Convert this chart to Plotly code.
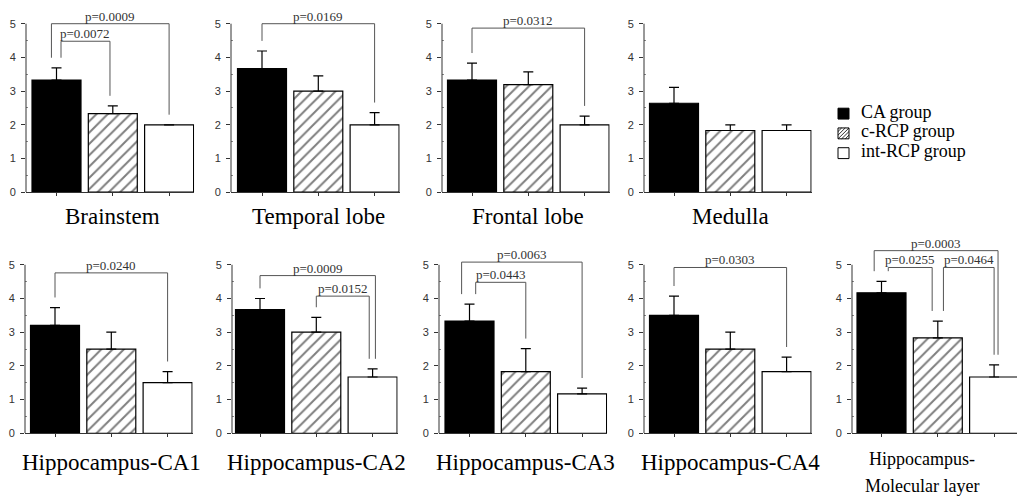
import plotly.graph_objects as go

# ---------------- data ----------------
regions = ["Brainstem", "Temporal lobe", "Frontal lobe", "Medulla",
           "Hippocampus-CA1", "Hippocampus-CA2", "Hippocampus-CA3",
           "Hippocampus-CA4", "Hippocampus-<br>Molecular layer"]
groups = ["CA group", "c-RCP group", "int-RCP group"]

ca_mean = [3.33, 3.67, 3.33, 2.64, 3.20, 3.67, 3.33, 3.50, 4.17]
ca_err = [0.36, 0.52, 0.50, 0.47, 0.53, 0.33, 0.50, 0.57, 0.34]
crcp_mean = [2.33, 3.00, 3.19, 1.83, 2.50, 3.00, 1.83, 2.50, 2.83]
crcp_err = [0.23, 0.45, 0.38, 0.17, 0.50, 0.44, 0.68, 0.50, 0.50]
int_mean = [2.00, 2.00, 2.00, 1.83, 1.50, 1.67, 1.17, 1.83, 1.67]
int_err = [0.00, 0.36, 0.26, 0.17, 0.33, 0.24, 0.17, 0.43, 0.36]

# significance comparisons per panel: (group i, group j, bracket level, label)
comparisons = [
    [(0, 2, 5.00, "p=0.0009"), (0, 1, 4.48, "p=0.0072")],
    [(0, 2, 5.00, "p=0.0169")],
    [(0, 2, 4.87, "p=0.0312")],
    [],
    [(0, 2, 4.76, "p=0.0240")],
    [(0, 2, 4.68, "p=0.0009"), (1, 2, 4.07, "p=0.0152")],
    [(0, 2, 5.08, "p=0.0063"), (0, 1, 4.48, "p=0.0443")],
    [(0, 2, 4.92, "p=0.0303")],
    [(0, 2, 5.42, "p=0.0003"), (0, 1, 4.92, "p=0.0255"), (1, 2, 4.92, "p=0.0464")],
]

# ---------------- layout helpers (pixels of the 1018x502 canvas) ----------------
W, H = 1018, 502
axis_px = [26, 231, 442, 644, 25, 232, 439, 644, 852]
c1_px = [56.5, 262, 472, 674, 55, 260, 469.5, 674, 881.5]
panel_row = [0, 0, 0, 0, 1, 1, 1, 1, 1]
PPU = 56.3          # px per category step
ZERO_PX = [194.5, 438.5]
PPY = 34.1          # px per y unit
YMAX = 5.6
# leg x-offsets for nested brackets (per panel, per comparison: dx_i, dx_j)
leg_dx = [
    [(-0.09, 0.0), (0.08, -0.05)],
    [(0.0, 0.0)],
    [(0.0, 0.0)],
    [],
    [(0.0, 0.0)],
    [(0.0, 0.05), (0.0, -0.06)],
    [(-0.14, 0.0), (0.11, 0.0)],
    [(0.0, 0.0)],
    [(-0.13, 0.07), (0.12, -0.10), (0.10, 0.0)],
]
# category label placement: first-line anchor y (px), line step (px), x offset (category units), font size
label_y_px = [219.5, 219.5, 219.5, 219.5, 468, 468, 468, 468, 465]
label_step = 27
label_dx = [0, 0, 0, 0, 0, 0, 0, 0, -0.28]
label_size = [23, 23, 23, 23, 23, 23, 23, 23, 18]

means = [ca_mean, crcp_mean, int_mean]
errs = [ca_err, crcp_err, int_err]
HATCH = dict(shape="/", fgcolor="black", bgcolor="white", size=8, solidity=0.25)
fills = [
    dict(color="black", pattern=dict(shape="")),
    dict(color="white", pattern=HATCH),
    dict(color="white", pattern=dict(shape="")),
]

SERIF = "Liberation Serif, Times New Roman, serif"
SANS = "Liberation Sans, Arial, sans-serif"

fig = go.Figure()
layout = dict(
    width=W, height=H, margin=dict(l=0, r=0, t=0, b=0),
    paper_bgcolor="white", plot_bgcolor="white",
    barmode="overlay", showlegend=False,
)
shapes = []
annotations = []

for k in range(9):
    ax = "" if k == 0 else str(k + 1)
    xname, yname = "x" + ax, "y" + ax
    row = panel_row[k]
    right_px = min(c1_px[k] + 2 * PPU + 25, W - 1)
    xr = [(axis_px[k] - c1_px[k]) / PPU, (right_px - c1_px[k]) / PPU]
    zero = ZERO_PX[row]
    top = zero - YMAX * PPY

    layout["xaxis" + ax] = dict(
        domain=[axis_px[k] / W, right_px / W], range=xr, anchor=yname,
        showline=True, linecolor="#333", linewidth=1,
        ticks="outside", ticklen=3, tickcolor="#333", tickvals=[0, 1, 2],
        showticklabels=False, showgrid=False, zeroline=False, fixedrange=True,
    )
    layout["yaxis" + ax] = dict(
        domain=[1 - zero / H, 1 - top / H], range=[0, YMAX], anchor=xname,
        showline=False, ticks="outside", ticklen=4, tickcolor="#333", tickwidth=1,
        tickvals=[0, 1, 2, 3, 4, 5], ticktext=["0", "1", "2", "3", "4", "5"],
        tickfont=dict(family=SANS, size=11, color="#333"), ticklabelstandoff=3,
        minor=dict(tickvals=[0.5, 1.5, 2.5, 3.5, 4.5], ticks="inside", ticklen=2,
                   tickcolor="#888", showgrid=False),
        showgrid=False, zeroline=False, fixedrange=True,
    )
    # y axis line only from 0 to 5
    shapes.append(dict(type="line", xref=xname + " domain", x0=0, x1=0,
                       yref=yname, y0=0, y1=5, line=dict(color="#333", width=1)))

    for g in range(3):
        fig.add_trace(go.Bar(
            x=[g], y=[means[g][k]], width=0.87, xaxis=xname, yaxis=yname,
            name=groups[g], showlegend=False,
            marker=dict(color=fills[g]["color"], pattern=fills[g]["pattern"],
                        line=dict(color="black", width=1.2)),
            error_y=dict(type="data", symmetric=False, array=[errs[g][k]],
                         arrayminus=[0], color="black", thickness=1.2, width=5),
            hoverinfo="skip",
        ))

    for ci, (i, j, level, label) in enumerate(comparisons[k]):
        dxi, dxj = leg_dx[k][ci]
        xi, xj = i + dxi, j + dxj
        bi = means[i][k] + errs[i][k] + 0.3
        bj = means[j][k] + errs[j][k] + 0.3
        fig.add_trace(go.Scatter(
            x=[xi, xi, xj, xj], y=[bi, level, level, bj], mode="lines",
            line=dict(color="#555", width=1), xaxis=xname, yaxis=yname,
            showlegend=False, hoverinfo="skip",
        ))
        annotations.append(dict(
            x=(xi + xj) / 2, y=level, xref=xname, yref=yname, text=label,
            showarrow=False, xanchor="center", yanchor="bottom", yshift=-2,
            font=dict(family=SERIF, size=13, color="#333"),
        ))

    for li, line in enumerate(regions[k].split("<br>")):
        annotations.append(dict(
            x=1 + label_dx[k], y=1 - (label_y_px[k] + li * label_step) / H,
            xref=xname, yref="paper", text=line,
            showarrow=False, xanchor="center", yanchor="middle",
            font=dict(family=SERIF, size=label_size[k], color="black"),
        ))

# ---------------- legend (drawn by hand, compact rows) ----------------
LEG_X, LEG_BOX, LEG_TEXT_X = 838, 11, 859
LEG_ROWS = [113, 133, 153]
for g in range(3):
    cy = LEG_ROWS[g] + 2
    bx0, bx1 = LEG_X, LEG_X + LEG_BOX
    by0, by1 = cy - LEG_BOX / 2, cy + LEG_BOX / 2
    shapes.append(dict(type="rect", xref="paper", yref="paper",
                       x0=bx0 / W, x1=bx1 / W, y0=1 - by1 / H, y1=1 - by0 / H,
                       fillcolor=fills[g]["color"], line=dict(color="black", width=1)))
    if g == 1:
        for s in (0.33, 0.66, 1.0):
            d = s * LEG_BOX
            shapes.append(dict(type="line", xref="paper", yref="paper",
                               x0=bx0 / W, y0=1 - (by0 + d) / H,
                               x1=(bx0 + d) / W, y1=1 - by0 / H,
                               line=dict(color="black", width=0.8)))
        for s in (0.33, 0.66):
            d = s * LEG_BOX
            shapes.append(dict(type="line", xref="paper", yref="paper",
                               x0=(bx0 + d) / W, y0=1 - by1 / H,
                               x1=bx1 / W, y1=1 - (by0 + d) / H,
                               line=dict(color="black", width=0.8)))
    annotations.append(dict(
        x=LEG_TEXT_X / W, y=1 - LEG_ROWS[g] / H, xref="paper", yref="paper",
        text=groups[g], showarrow=False, xanchor="left", yanchor="middle",
        font=dict(family=SERIF, size=18, color="black"),
    ))

layout["shapes"] = shapes
layout["annotations"] = annotations
fig.update_layout(**layout)
fig.write_html("out.html", config={"displayModeBar": False, "staticPlot": True},
               post_script="document.body.style.margin='0';")
